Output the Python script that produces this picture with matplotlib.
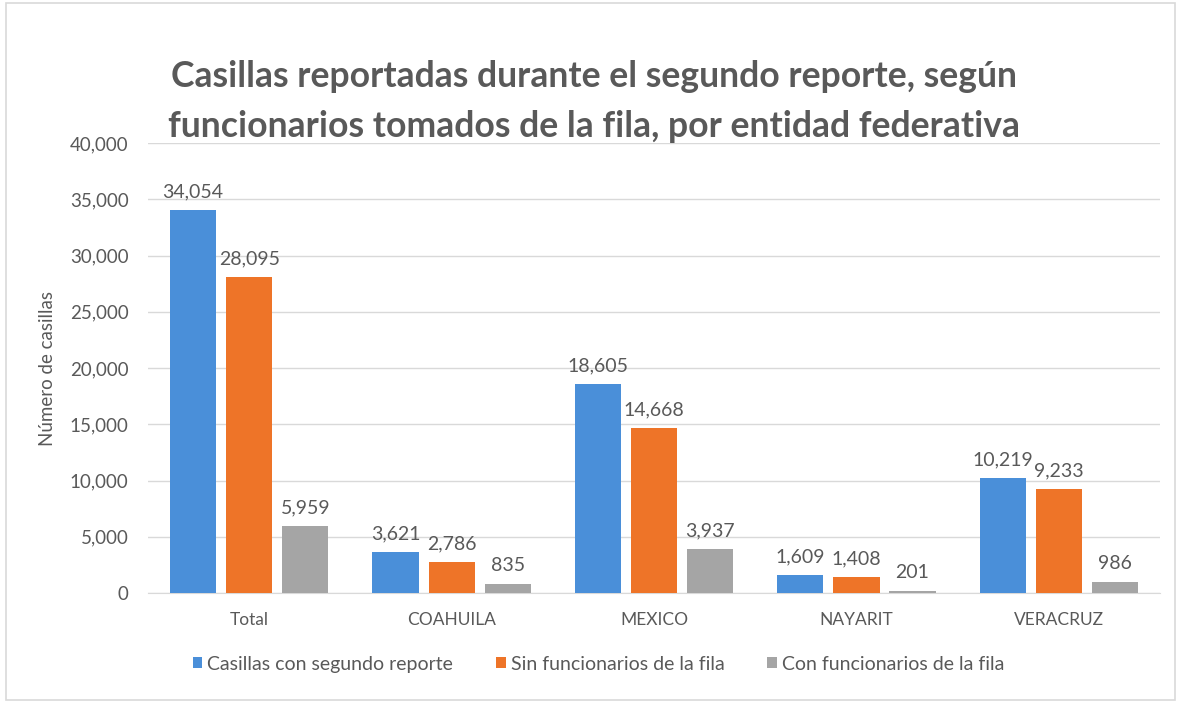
import matplotlib
matplotlib.use("Agg")
import matplotlib.pyplot as plt
from matplotlib.patches import Rectangle
import numpy as np

plt.rcParams["font.family"] = ["Lato", "DejaVu Sans"]

categories = ["Total", "COAHUILA", "MEXICO", "NAYARIT", "VERACRUZ"]
con_segundo = [34054, 3621, 18605, 1609, 10219]
sin_funcionarios = [28095, 2786, 14668, 1408, 9233]
con_funcionarios = [5959, 835, 3937, 201, 986]

series = [
    ("Casillas con segundo reporte", con_segundo, "#4a8fd9"),
    ("Sin funcionarios de la fila", sin_funcionarios, "#ee7428"),
    ("Con funcionarios de la fila", con_funcionarios, "#a5a5a5"),
]

text_color = "#595959"

fig = plt.figure(figsize=(11.79, 7.01), dpi=100)
ax = fig.add_axes([0.1255, 0.154, 0.8585, 0.642])

# outer chart frame
fig.patches.append(Rectangle((0.005, 0.002), 0.992, 0.994, transform=fig.transFigure,
                             fill=False, edgecolor="#d9d9d9", linewidth=1.2))

x = np.arange(len(categories))
width = 0.228
step = 0.277

for i, (name, vals, color) in enumerate(series):
    pos = x + (i - 1) * step
    bars = ax.bar(pos, vals, width, color=color, label=name, zorder=3)
    for b, v in zip(bars, vals):
        ax.annotate(f"{v:,}", (b.get_x() + b.get_width() / 2, v),
                    xytext=(0, 7), textcoords="offset points",
                    ha="center", va="bottom", fontsize=14, color=text_color)

ax.set_xlim(-0.5, len(categories) - 0.5)
ax.set_ylim(0, 40000)
ax.set_yticks(np.arange(0, 40001, 5000))
ax.set_yticklabels([f"{t:,}" for t in range(0, 40001, 5000)])
ax.set_xticks(x)
ax.set_xticklabels(categories)
ax.tick_params(axis="both", length=0, colors=text_color)
ax.tick_params(axis="y", pad=14, labelsize=13.5)
ax.tick_params(axis="x", pad=14, labelsize=12.5)

ax.grid(axis="y", color="#d9d9d9", linewidth=1, zorder=0)
for s in ["top", "right", "left"]:
    ax.spines[s].set_visible(False)
ax.spines["bottom"].set_color("#d9d9d9")

ax.set_ylabel("Número de casillas", fontsize=13.5, color=text_color, labelpad=10)

fig.text(0.504, 0.855,
         "Casillas reportadas durante el segundo reporte, según\n"
         "funcionarios tomados de la fila, por entidad federativa",
         ha="center", va="center", fontsize=25.6, fontweight="bold",
         color=text_color, linespacing=1.62)

ax.legend(loc="upper center", bbox_to_anchor=(0.445, -0.1), ncol=3, frameon=False,
          fontsize=14, handlelength=0.5, handleheight=0.5, handletextpad=0.25,
          columnspacing=2.2, labelcolor=text_color)

plt.savefig("out.png", dpi=100)
